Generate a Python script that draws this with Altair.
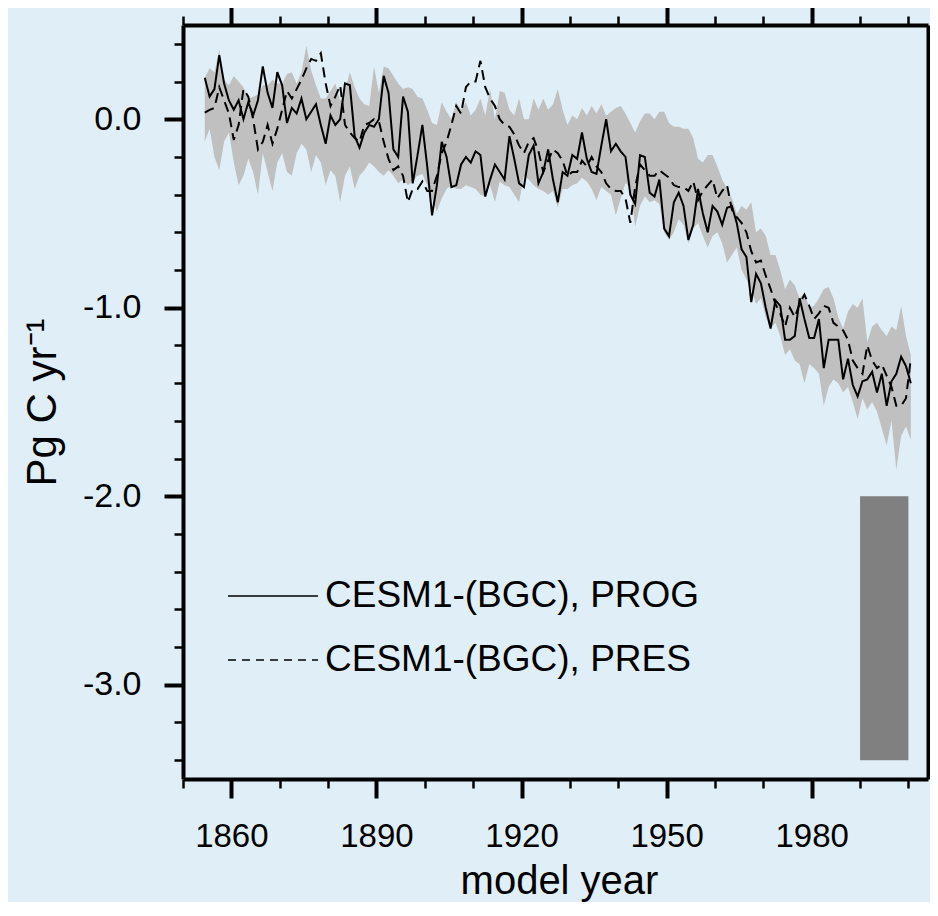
import altair as alt
import pandas as pd

# ---------------- data ----------------
years = list(range(1854, 2001))  # 147 annual values

prog = [
    0.22, 0.12, 0.16, 0.34, 0.19, 0.10, 0.05, 0.10, 0.00, 0.09,
    0.02, 0.10, 0.28, 0.14, 0.06, 0.25, 0.18, -0.02, 0.06, 0.03,
    0.11, 0.00, 0.04, 0.08, -0.03, -0.13, 0.02, -0.03, 0.00, 0.19,
    0.18, -0.09, -0.15, -0.07, -0.03, -0.04, 0.00, 0.23, 0.14, -0.16,
    -0.20, 0.12, 0.04, -0.34, -0.19, -0.03, -0.25, -0.51, -0.35, -0.12,
    -0.20, -0.36, -0.35, -0.24, -0.20, -0.23, -0.17, -0.19, -0.41, -0.32,
    -0.24, -0.28, -0.32, -0.09, -0.21, -0.34, -0.36, -0.19, -0.14, -0.34,
    -0.28, -0.16, -0.32, -0.44, -0.28, -0.30, -0.19, -0.21, -0.07, -0.21,
    -0.28, -0.29, -0.14, 0.00, -0.17, -0.13, -0.17, -0.20, -0.40, -0.45,
    -0.19, -0.20, -0.39, -0.41, -0.32, -0.58, -0.62, -0.44, -0.39, -0.46,
    -0.64, -0.56, -0.37, -0.50, -0.60, -0.46, -0.49, -0.56, -0.47, -0.46,
    -0.55, -0.69, -0.73, -0.97, -0.82, -0.87, -1.00, -1.11, -0.96, -0.99,
    -1.17, -1.17, -1.15, -0.95, -1.06, -1.16, -1.16, -1.06, -1.32, -1.17,
    -1.17, -1.17, -1.38, -1.27, -1.41, -1.47, -1.39, -1.38, -1.34, -1.45,
    -1.35, -1.52, -1.39, -1.35, -1.26, -1.31, -1.40,
]

pres = [
    0.035, 0.05, 0.06, 0.17, 0.10, 0.03, -0.11, -0.03, 0.16, 0.12,
    0.00, -0.16, -0.12, -0.03, -0.13, -0.05, 0.05, 0.15, 0.11, 0.16,
    0.21, 0.27, 0.32, 0.31, 0.35, 0.19, 0.07, 0.12, 0.18, -0.03,
    -0.07, -0.10, -0.12, -0.03, -0.02, 0.00, -0.01, -0.12, -0.21, -0.27,
    -0.25, -0.30, -0.44, -0.37, -0.37, -0.33, -0.38, -0.38, -0.30, -0.18,
    -0.12, -0.03, 0.07, 0.03, 0.17, 0.20, 0.20, 0.31, 0.17, 0.11,
    0.07, 0.00, -0.03, -0.04, -0.08, -0.14, -0.18, -0.12, -0.10, -0.17,
    -0.28, -0.22, -0.16, -0.18, -0.22, -0.30, -0.28, -0.28, -0.22, -0.25,
    -0.20, -0.25, -0.28, -0.34, -0.37, -0.38, -0.38, -0.42, -0.55, -0.36,
    -0.24, -0.27, -0.30, -0.30, -0.27, -0.29, -0.31, -0.35, -0.36, -0.36,
    -0.38, -0.33, -0.43, -0.38, -0.35, -0.32, -0.42, -0.38, -0.35, -0.48,
    -0.52, -0.55, -0.60, -0.70, -0.76, -0.75, -0.83, -0.90, -0.98, -1.03,
    -1.10, -1.00, -1.05, -0.98, -0.93, -0.99, -1.06, -1.03, -0.99, -1.00,
    -1.08, -1.10, -1.12, -1.17, -1.28, -1.32, -1.35, -1.20, -1.28, -1.32,
    -1.30, -1.36, -1.42, -1.52, -1.52, -1.48, -1.27,
]

band_hi = [
    0.22, 0.27, 0.25, 0.37, 0.21, 0.18, 0.23, 0.20, 0.17, 0.11,
    0.12, 0.13, 0.18, 0.18, 0.21, 0.19, 0.19, 0.24, 0.25, 0.19,
    0.25, 0.39, 0.26, 0.18, 0.11, 0.11, 0.15, 0.19, 0.10, 0.15,
    0.25, 0.17, 0.11, 0.08, 0.07, 0.28, 0.14, 0.28, 0.27, 0.23,
    0.19, 0.16, 0.17, 0.16, 0.12, 0.11, 0.05, -0.02, -0.03, 0.09,
    0.04, 0.00, 0.09, 0.05, 0.09, 0.02, 0.05, 0.11, 0.02, 0.16,
    0.00, 0.15, 0.14, 0.05, 0.02, 0.11, 0.00, 0.00, 0.11, 0.05,
    0.11, 0.05, 0.08, 0.16, 0.05, -0.03, 0.02, 0.00, 0.06, 0.02,
    0.07, 0.03, 0.08, 0.02, 0.04, 0.06, 0.07, 0.03, -0.02, -0.07,
    -0.01, 0.03, 0.03, 0.00, 0.04, 0.04, -0.02, -0.04, -0.04, -0.05,
    -0.05, -0.10, -0.21, -0.23, -0.19, -0.19, -0.25, -0.32, -0.37, -0.42,
    -0.50, -0.46, -0.48, -0.44, -0.60, -0.58, -0.62, -0.72, -0.72, -0.80,
    -0.90, -0.85, -0.88, -0.95, -0.92, -1.00, -0.99, -0.95, -0.90, -0.89,
    -0.95, -1.05, -1.11, -1.02, -0.98, -1.00, -0.95, -1.18, -1.10, -1.08,
    -1.12, -1.15, -1.10, -1.12, -0.99, -1.15, -1.25,
]

band_lo = [
    -0.12, -0.05, -0.20, -0.27, -0.12, -0.07, -0.23, -0.35, -0.30, -0.21,
    -0.28, -0.40, -0.18, -0.28, -0.38, -0.23, -0.18, -0.28, -0.30, -0.18,
    -0.13, -0.16, -0.28, -0.19, -0.23, -0.35, -0.27, -0.30, -0.44, -0.30,
    -0.25, -0.37, -0.30, -0.27, -0.23, -0.25, -0.28, -0.30, -0.27, -0.30,
    -0.34, -0.32, -0.35, -0.33, -0.30, -0.29, -0.35, -0.42, -0.49, -0.42,
    -0.37, -0.35, -0.37, -0.37, -0.35, -0.36, -0.37, -0.40, -0.41, -0.35,
    -0.44, -0.33, -0.35, -0.36, -0.40, -0.44, -0.30, -0.32, -0.35, -0.37,
    -0.38, -0.40, -0.38, -0.47, -0.37, -0.37, -0.35, -0.34, -0.31, -0.33,
    -0.37, -0.43, -0.36, -0.38, -0.40, -0.51, -0.42, -0.34, -0.36, -0.57,
    -0.46, -0.41, -0.44, -0.43, -0.45, -0.60, -0.64, -0.60, -0.53, -0.56,
    -0.66, -0.58, -0.55, -0.62, -0.68, -0.62, -0.60, -0.66, -0.76, -0.72,
    -0.68, -0.80, -0.85, -0.90, -0.98, -0.95, -1.05, -1.11, -1.08, -1.15,
    -1.25, -1.22, -1.28, -1.30, -1.40, -1.30, -1.32, -1.35, -1.52, -1.42,
    -1.38, -1.40, -1.45, -1.42, -1.50, -1.59, -1.48, -1.54, -1.50, -1.55,
    -1.64, -1.73, -1.60, -1.86, -1.68, -1.63, -1.70,
]

# observational estimate box
obs_years = [1990, 2000]
obs_range = [-2.0, -3.4]

legend_labels = ["CESM1-(BGC), PROG", "CESM1-(BGC), PRES"]

x_major_ticks = [1860, 1890, 1920, 1950, 1980]
x_minor_ticks = list(range(1850, 2001, 10))
y_major_ticks = [-3.0, -2.0, -1.0, 0.0]
y_minor_ticks = [round(-3.4 + 0.2 * k, 1) for k in range(20)]

# ---------------- chart ----------------
FONT = "Liberation Sans"
BG = "#E0EFF7"
W, H = 745, 754

df = pd.DataFrame({"year": years, "prog": prog, "pres": pres,
                   "hi": band_hi, "lo": band_lo})
obs = pd.DataFrame({"x1": [obs_years[0]], "x2": [obs_years[1]],
                    "y1": [obs_range[0]], "y2": [obs_range[1]]})

xs = alt.Scale(domain=[1850, 2004.05], nice=False, zero=False)
ys = alt.Scale(domain=[-3.5, 0.5], nice=False, zero=False)

common = dict(domainColor="black", tickColor="black", labelColor="black",
              titleColor="black", labelFont=FONT, titleFont=FONT, grid=False,
              zindex=1)

ax_x_major = alt.Axis(orient="bottom", values=x_major_ticks, format="d",
                      tickSize=19, tickWidth=4, domainWidth=4,
                      labelFontSize=33, labelPadding=22,
                      title="model year", titleFontSize=40,
                      titleFontWeight="normal", titleX=376, titleY=114,
                      titleBaseline="alphabetic", titleAlign="center",
                      **common)
ax_x_minor = alt.Axis(orient="bottom", values=x_minor_ticks, labels=False,
                      tickSize=9, tickWidth=2.5, domain=False, title=None,
                      **common)
ax_x_top_major = alt.Axis(orient="top", values=x_major_ticks, labels=False,
                          tickSize=19, tickWidth=4, domainWidth=4, title=None,
                          **common)
ax_x_top_minor = alt.Axis(orient="top", values=x_minor_ticks, labels=False,
                          tickSize=9, tickWidth=2.5, domain=False, title=None,
                          **common)

ax_y_major = alt.Axis(orient="left", values=y_major_ticks,
                      labelExpr="datum.value == 0 ? '0.0' : '-' + format(-datum.value, '.1f')",
                      tickSize=19, tickWidth=4, domainWidth=4,
                      labelFontSize=34, labelPadding=23,
                      title="Pg C yr\u207b\u00b9", titleFontSize=42,
                      titleFontWeight="normal", titleAngle=270,
                      titleX=-128, titleY=H / 2, titleBaseline="alphabetic",
                      titleAlign="center", **common)
ax_y_minor = alt.Axis(orient="left", values=y_minor_ticks, labels=False,
                      tickSize=9, tickWidth=2.5, domain=False, title=None,
                      **common)
ax_y_right = alt.Axis(orient="right", ticks=False, labels=False,
                      domainWidth=4, title=None, **common)

base = alt.Chart(df).transform_calculate(t="datum.year + 0.5")

band = base.mark_area(color="#C0C0C0", opacity=1, interpolate="linear").encode(
    x=alt.X("t:Q", scale=xs, axis=ax_x_major),
    y=alt.Y("lo:Q", scale=ys, axis=ax_y_major),
    y2="hi:Q",
)

box = alt.Chart(obs).mark_rect(color="#808080").encode(
    x=alt.X("x1:Q", scale=xs, axis=ax_x_top_minor),
    x2="x2:Q",
    y=alt.Y("y1:Q", scale=ys, axis=None),
    y2="y2:Q",
)

solid = base.mark_line(color="black", strokeWidth=2).encode(
    x=alt.X("t:Q", scale=xs, axis=ax_x_minor),
    y=alt.Y("prog:Q", scale=ys, axis=ax_y_minor),
)

dashed = base.mark_line(color="black", strokeWidth=2, strokeDash=[10, 6]).encode(
    x=alt.X("t:Q", scale=xs, axis=ax_x_top_major),
    y=alt.Y("pres:Q", scale=ys, axis=ax_y_right),
)

one = pd.DataFrame({"k": [0]})
leg_solid = alt.Chart(one).mark_rule(color="black", strokeWidth=1.5).encode(
    x=alt.value(45), x2=alt.value(135), y=alt.value(571))
leg_dash = alt.Chart(one).mark_rule(color="black", strokeWidth=1.5,
                                    strokeDash=[8, 6]).encode(
    x=alt.value(45), x2=alt.value(135), y=alt.value(635))
leg_txt1 = alt.Chart(pd.DataFrame({"label": [legend_labels[0]]})).mark_text(
    align="left", baseline="middle", font=FONT, fontSize=37, color="black"
).encode(x=alt.value(142), y=alt.value(571), text="label:N")
leg_txt2 = alt.Chart(pd.DataFrame({"label": [legend_labels[1]]})).mark_text(
    align="left", baseline="middle", font=FONT, fontSize=37, color="black"
).encode(x=alt.value(142), y=alt.value(635), text="label:N")

chart = alt.layer(
    band, box, solid, dashed, leg_solid, leg_dash, leg_txt1, leg_txt2
).resolve_axis(
    x="independent", y="independent"
).properties(
    width=W, height=H,
    padding={"left": 175, "top": 17, "right": 2, "bottom": 123},
    autosize=alt.AutoSizeParams(type="none"),
    background=BG,
).configure_view(
    stroke=None
)

chart.save("out.html", embed_options={"renderer": "svg", "actions": False})
